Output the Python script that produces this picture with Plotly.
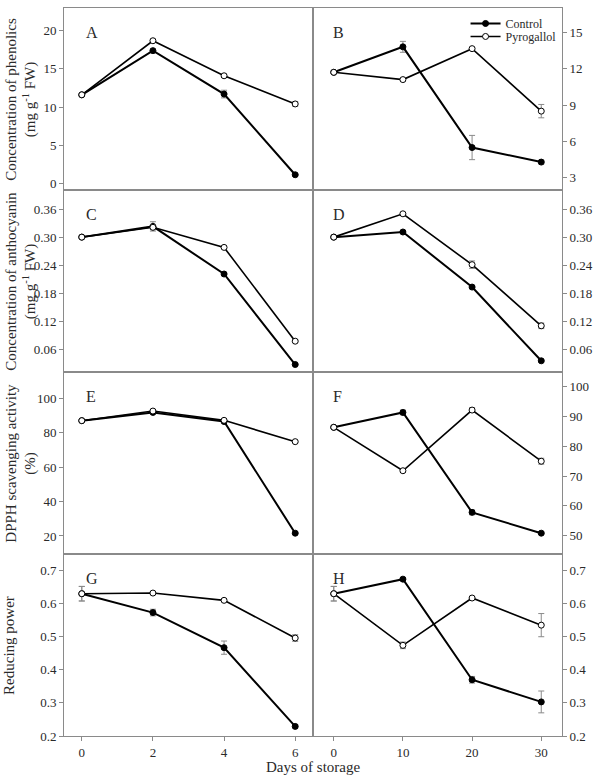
import plotly.graph_objects as go
from plotly.subplots import make_subplots

# ---- data ----
days_short = [0, 2, 4, 6]
days_long = [0, 10, 20, 30]

# A: phenolics, short storage
A_ctrl = [11.6, 17.4, 11.7, 1.1]
A_ctrl_err = [0.1, 0.2, 0.5, 0.1]
A_pyro = [11.6, 18.7, 14.1, 10.4]
A_pyro_err = [0.1, 0.2, 0.2, 0.3]
# B: phenolics, long storage
B_ctrl = [11.7, 13.8, 5.5, 4.3]
B_ctrl_err = [0.1, 0.45, 1.0, 0.15]
B_pyro = [11.7, 11.1, 13.65, 8.5]
B_pyro_err = [0.1, 0.1, 0.1, 0.55]
# C: anthocyanin, short
C_ctrl = [0.301, 0.324, 0.222, 0.028]
C_ctrl_err = [0.002, 0.01, 0.003, 0.002]
C_pyro = [0.301, 0.322, 0.279, 0.078]
C_pyro_err = [0.002, 0.005, 0.003, 0.002]
# D: anthocyanin, long
D_ctrl = [0.301, 0.312, 0.194, 0.036]
D_ctrl_err = [0.002, 0.002, 0.003, 0.002]
D_pyro = [0.301, 0.351, 0.242, 0.111]
D_pyro_err = [0.002, 0.002, 0.008, 0.006]
# E: DPPH, short
E_ctrl = [87.0, 91.8, 86.5, 21.6]
E_ctrl_err = [0.4, 0.5, 0.5, 0.5]
E_pyro = [87.0, 92.6, 87.2, 74.8]
E_pyro_err = [0.4, 0.5, 0.5, 0.5]
# F: DPPH, long
F_ctrl = [86.4, 91.4, 57.8, 50.8]
F_ctrl_err = [0.4, 0.8, 0.8, 0.4]
F_pyro = [86.4, 71.8, 92.2, 75.0]
F_pyro_err = [0.4, 0.5, 0.8, 1.0]
# G: reducing power, short
G_ctrl = [0.630, 0.573, 0.467, 0.229]
G_ctrl_err = [0.022, 0.01, 0.02, 0.005]
G_pyro = [0.630, 0.632, 0.610, 0.496]
G_pyro_err = [0.022, 0.004, 0.004, 0.01]
# H: reducing power, long
H_ctrl = [0.630, 0.674, 0.370, 0.303]
H_ctrl_err = [0.022, 0.003, 0.01, 0.033]
H_pyro = [0.630, 0.474, 0.617, 0.535]
H_pyro_err = [0.022, 0.01, 0.003, 0.035]

series_names = ["Control", "Pyrogallol"]
panel_letters = ["A", "B", "C", "D", "E", "F", "G", "H"]
y_titles = [
    "Concentration of phenolics<br>(mg g<sup>-1</sup> FW)",
    "Concentration of anthocyanin<br>(mg g<sup>-1</sup> FW)",
    "DPPH scavenging activity<br>(%)",
    "Reducing power",
]
x_title = "Days of storage"

panels = [
    (A_ctrl, A_ctrl_err, A_pyro, A_pyro_err),
    (B_ctrl, B_ctrl_err, B_pyro, B_pyro_err),
    (C_ctrl, C_ctrl_err, C_pyro, C_pyro_err),
    (D_ctrl, D_ctrl_err, D_pyro, D_pyro_err),
    (E_ctrl, E_ctrl_err, E_pyro, E_pyro_err),
    (F_ctrl, F_ctrl_err, F_pyro, F_pyro_err),
    (G_ctrl, G_ctrl_err, G_pyro, G_pyro_err),
    (H_ctrl, H_ctrl_err, H_pyro, H_pyro_err),
]

y_ranges = [
    [-0.9, 23.0], [2.0, 17.0],
    [0.012, 0.402], [0.012, 0.402],
    [9.5, 115.3], [43.8, 105.0],
    [0.2, 0.75], [0.2, 0.75],
]
y_ticks = [
    [0, 5, 10, 15, 20], [3, 6, 9, 12, 15],
    [0.06, 0.12, 0.18, 0.24, 0.30, 0.36], [0.06, 0.12, 0.18, 0.24, 0.30, 0.36],
    [20, 40, 60, 80, 100], [50, 60, 70, 80, 90, 100],
    [0.2, 0.3, 0.4, 0.5, 0.6, 0.7], [0.2, 0.3, 0.4, 0.5, 0.6, 0.7],
]
y_fmt = ["", "", ".2f", ".2f", "", "", ".1f", ".1f"]

FONT = "Liberation Serif, Times New Roman, serif"
GRAY = "#8a8a8a"
TXT = "#2a2a2a"

L, R, T, B = 64, 30, 7, 44
W, H = 600, 780
pw, ph = W - L - R, H - T - B

fig = make_subplots(rows=4, cols=2, horizontal_spacing=0, vertical_spacing=0)

for i, (c, ce, p, pe) in enumerate(panels):
    row = i // 2 + 1
    col = i % 2 + 1
    xs = days_short if col == 1 else days_long
    show = (i == 1)
    fig.add_trace(go.Scatter(
        x=xs, y=c, name=series_names[0], mode="lines+markers",
        line=dict(color="black", width=2),
        marker=dict(symbol="circle", size=6, color="black", line=dict(color="black", width=1)),
        error_y=dict(type="data", array=ce, visible=True, color=GRAY, thickness=1, width=3),
        showlegend=show, legend="legend",
    ), row=row, col=col)
    fig.add_trace(go.Scatter(
        x=xs, y=p, name=series_names[1], mode="lines+markers",
        line=dict(color="black", width=1.6),
        marker=dict(symbol="circle", size=6, color="white", line=dict(color="black", width=1)),
        error_y=dict(type="data", array=pe, visible=True, color=GRAY, thickness=1, width=3),
        showlegend=show, legend="legend2",
    ), row=row, col=col)

    bottom = (row == 4)
    xaxis_kw = dict(
        range=[-0.5, 6.5] if col == 1 else [-3, 33],
        showline=True, linecolor=GRAY, linewidth=1, mirror=True,
        showgrid=False, zeroline=False,
        tickfont=dict(family=FONT, size=13, color=TXT),
    )
    if bottom:
        xaxis_kw.update(tickvals=xs, ticks="outside", ticklen=4,
                        tickcolor=GRAY, tickwidth=1, showticklabels=True)
    else:
        xaxis_kw.update(ticks="", showticklabels=False)
    fig.update_xaxes(row=row, col=col, **xaxis_kw)
    fig.update_yaxes(
        range=y_ranges[i], tickvals=y_ticks[i], tickformat=y_fmt[i],
        side="left" if col == 1 else "right",
        ticks="outside", ticklen=4, tickcolor=GRAY, tickwidth=1,
        showline=True, linecolor=GRAY, linewidth=1, mirror=True,
        showgrid=False, zeroline=False,
        tickfont=dict(family=FONT, size=13, color=TXT),
        row=row, col=col,
    )

annotations = []
# panel letters
for i, letter in enumerate(panel_letters):
    row = i // 2
    col = i % 2
    left_px = 84 if col == 0 else 335
    top_px = T + row * ph / 4 + 14
    annotations.append(dict(
        text=letter, xref="paper", yref="paper",
        x=(left_px - L) / pw, y=1 - (top_px - T) / ph,
        xanchor="left", yanchor="top", showarrow=False,
        font=dict(family=FONT, size=16, color=TXT),
    ))
# y titles
title_x = [20, 20, 20, 8]
for r, t in enumerate(y_titles):
    annotations.append(dict(
        text=t, xref="paper", yref="paper",
        x=(title_x[r] - L) / pw, y=1 - (r + 0.5) / 4,
        xanchor="center", yanchor="middle", textangle=-90, showarrow=False,
        font=dict(family=FONT, size=15, color=TXT),
    ))
annotations.append(dict(
    text=x_title, xref="paper", yref="paper",
    x=(317 - L) / pw, y=-(767 - (H - B)) / ph,
    xanchor="center", yanchor="middle", showarrow=False,
    font=dict(family=FONT, size=15, color=TXT),
))

legend_common = dict(
    xanchor="left", yanchor="middle",
    bgcolor="rgba(0,0,0,0)", font=dict(family=FONT, size=12, color=TXT),
    itemwidth=30,
)
leg_x = (472 - L) / pw

fig.update_layout(
    width=W, height=H,
    margin=dict(l=L, r=R, t=T, b=B),
    paper_bgcolor="white", plot_bgcolor="white",
    font=dict(family=FONT, color=TXT),
    annotations=annotations,
    legend=dict(x=leg_x, y=1 - (22.5 - T) / ph, **legend_common),
    legend2=dict(x=leg_x, y=1 - (35.5 - T) / ph, **legend_common),
)

fig.write_html(
    "out.html",
    config={"displayModeBar": False},
    post_script="document.body.style.margin='0';document.body.style.overflow='hidden';",
)
